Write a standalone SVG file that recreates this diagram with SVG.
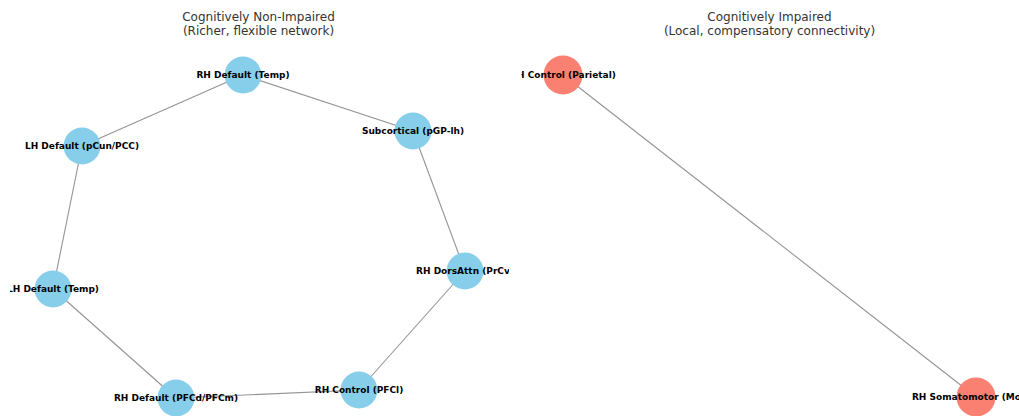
<svg xmlns="http://www.w3.org/2000/svg" width="1019" height="416" viewBox="0 0 1019 416">
<style>
.title{font-family:"DejaVu Sans",sans-serif;font-size:12px;fill:#333;text-anchor:middle}
.lbl{font-family:"DejaVu Sans",sans-serif;font-size:9px;font-weight:bold;fill:#000;text-anchor:middle}
.edge{stroke:#808080;stroke-width:1.1;opacity:0.85;fill:none}
.ni{fill:#87CEEB}
.im{fill:#FA8072}
</style>
<defs>
<clipPath id="clipL"><rect x="10" y="0" width="499" height="416"/></clipPath>
<clipPath id="clipR"><rect x="521.5" y="0" width="498" height="416"/></clipPath>
</defs>
<rect width="1019" height="416" fill="#fff"/>
<text class="title" x="258.5" y="21">Cognitively Non-Impaired</text>
<text class="title" x="258.5" y="35">(Richer, flexible network)</text>
<text class="title" x="769.5" y="21">Cognitively Impaired</text>
<text class="title" x="769.5" y="35">(Local, compensatory connectivity)</text>
<g clip-path="url(#clipL)">
<g id="connectors-left">
<line class="edge" x1="243" y1="75" x2="82" y2="146"/>
<line class="edge" x1="243" y1="75" x2="413" y2="131"/>
<line class="edge" x1="413" y1="131" x2="465" y2="271"/>
<line class="edge" x1="465" y1="271" x2="359" y2="390"/>
<line class="edge" x1="359" y1="390" x2="176" y2="398"/>
<line class="edge" x1="176" y1="398" x2="53" y2="289"/>
<line class="edge" x1="53" y1="289" x2="82" y2="146"/>
</g>
<g id="rh-default-temp"><circle class="ni" cx="243" cy="75" r="18.5"/><text class="lbl" x="243" y="78.3">RH Default (Temp)</text></g>
<g id="subcortical-pgp-lh"><circle class="ni" cx="413" cy="131" r="18.5"/><text class="lbl" x="413" y="134.3">Subcortical (pGP-lh)</text></g>
<g id="rh-dorsattn-prcv"><circle class="ni" cx="465" cy="271" r="18.5"/><text class="lbl" x="465" y="274.3">RH DorsAttn (PrCv)</text></g>
<g id="rh-control-pfcl"><circle class="ni" cx="359" cy="390" r="18.5"/><text class="lbl" x="359" y="393.3">RH Control (PFCl)</text></g>
<g id="rh-default-pfcd-pfcm"><circle class="ni" cx="176" cy="398" r="18.5"/><text class="lbl" x="176" y="401.3">RH Default (PFCd/PFCm)</text></g>
<g id="lh-default-temp"><circle class="ni" cx="53" cy="289" r="18.5"/><text class="lbl" x="53" y="292.3">LH Default (Temp)</text></g>
<g id="lh-default-pcun-pcc"><circle class="ni" cx="82" cy="146" r="18.5"/><text class="lbl" x="82" y="149.3">LH Default (pCun/PCC)</text></g>
</g>
<g clip-path="url(#clipR)">
<g id="connectors-right">
<line class="edge" x1="563" y1="75" x2="976" y2="397"/>
</g>
<g id="rh-control-parietal"><circle class="im" cx="563" cy="75" r="19.5"/><text class="lbl" x="563" y="78.3">RH Control (Parietal)</text></g>
<g id="rh-somatomotor"><circle class="im" cx="976" cy="397" r="19.5"/><text class="lbl" x="976" y="400.3">RH Somatomotor (Motor)</text></g>
</g>
</svg>
